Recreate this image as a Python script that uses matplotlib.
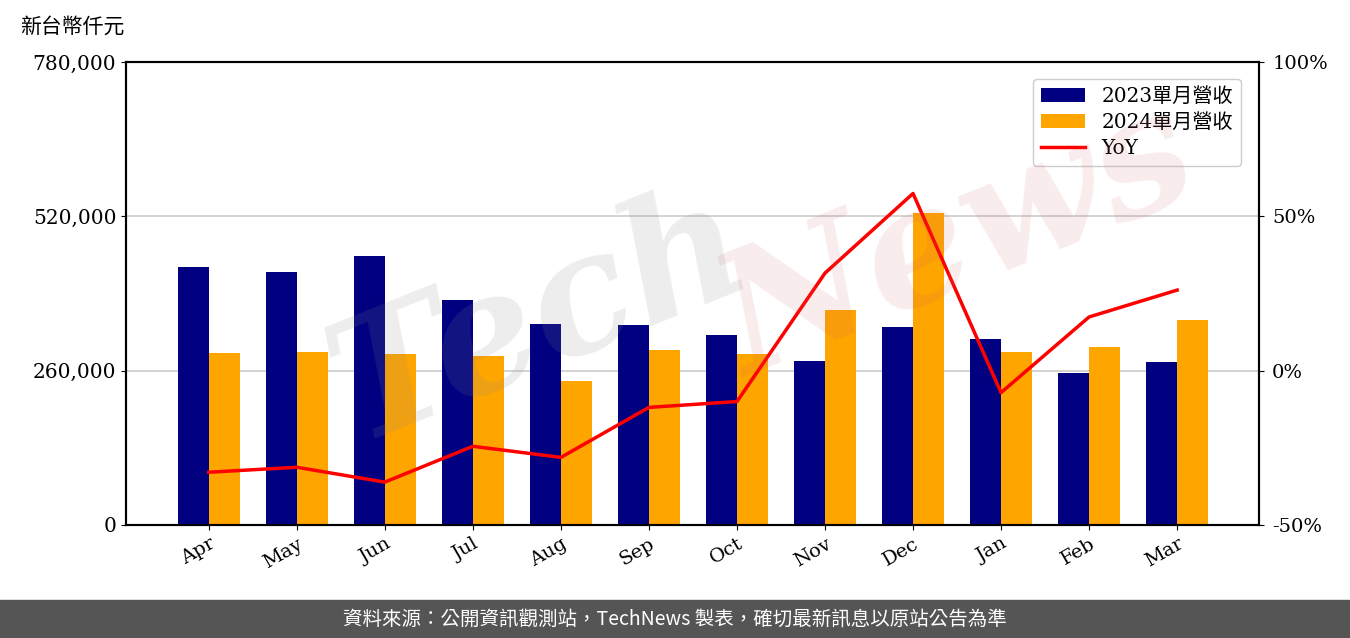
import numpy as np
import matplotlib.pyplot as plt

plt.rcParams['font.family'] = ['DejaVu Serif', 'Noto Sans CJK TC']

months = ['Apr', 'May', 'Jun', 'Jul', 'Aug', 'Sep', 'Oct', 'Nov', 'Dec', 'Jan', 'Feb', 'Mar']
rev_2023 = [434650, 426230, 453180, 379060, 338630, 336940, 320090, 276290, 333570, 313350, 256070, 274610]
rev_2024 = [289770, 291450, 288080, 284710, 242600, 294820, 288080, 362210, 525630, 291450, 299880, 345360]
yoy = [-32.9, -31.3, -36.1, -24.5, -28.1, -11.9, -10.0, 31.6, 57.4, -7.1, 17.4, 26.1]

left_ticks = [0, 260000, 520000, 780000]
right_ticks = [-50, 0, 50, 100]

fig = plt.figure(figsize=(13.5, 6.38), dpi=100)
ax = fig.add_axes([126/1350, 1-525/638, (1259-126)/1350, (525-62)/638])

x = np.arange(len(months))
w = 0.35
ax.bar(x - w/2, rev_2023, w, color='#000080', label='2023單月營收', zorder=2)
ax.bar(x + w/2, rev_2024, w, color='#FFA500', label='2024單月營收', zorder=2)
ax.set_xlim(-0.94, 11.93)
ax.set_ylim(0, 780000)
ax.set_yticks(left_ticks)
ax.set_yticklabels([f'{v:,}' for v in left_ticks], fontsize=14.5)
ax.set_xticks(x)
ax.set_xticklabels(months, rotation=30, ha='right', rotation_mode='anchor', fontsize=14)
for v in left_ticks[1:3]:
    ax.axhline(v, color='#d0d0d0', lw=1.3, zorder=1)
for s in ax.spines.values():
    s.set_linewidth(1.5)

ax2 = ax.twinx()
ax2.plot(x, yoy, color='red', lw=2.5, label='YoY', zorder=3)
ax2.set_ylim(-50, 100)
ax2.set_yticks(right_ticks)
ax2.set_yticklabels([f'{v}%' for v in right_ticks], fontsize=14)
ax2.tick_params(axis='y', pad=6)
for s in ax2.spines.values():
    s.set_linewidth(1.5)

h1, l1 = ax.get_legend_handles_labels()
h2, l2 = ax2.get_legend_handles_labels()
leg = ax2.legend(h1 + h2, l1 + l2, loc='upper right', fontsize=14.5, framealpha=1,
                 edgecolor='#cccccc', handlelength=2.2, bbox_to_anchor=(0.993, 0.985),
                 labelspacing=0.35)

# watermark
fig.text(0.40, 0.50, 'Tech', fontsize=120, color='#888888', alpha=0.15,
         rotation=22, ha='center', va='center', style='italic', fontweight='bold', zorder=0)
fig.text(0.71, 0.62, 'News', fontsize=120, color='#d06060', alpha=0.12,
         rotation=22, ha='center', va='center', style='italic', fontweight='bold', zorder=0)

fig.text(20/1350, 1-27/638, '新台幣仟元', fontsize=15, ha='left', va='center',
         family=['Noto Sans CJK TC'])

fig.patches.append(plt.Rectangle((0, 0), 1, 38/638, transform=fig.transFigure,
                                 color='#555555', zorder=0))
fig.text(0.5, 19/638, '資料來源：公開資訊觀測站，TechNews 製表，確切最新訊息以原站公告為準',
         color='white', fontsize=14, ha='center', va='center',
         family=['Noto Sans CJK TC', 'DejaVu Sans'])

fig.savefig('out.png', dpi=100)
